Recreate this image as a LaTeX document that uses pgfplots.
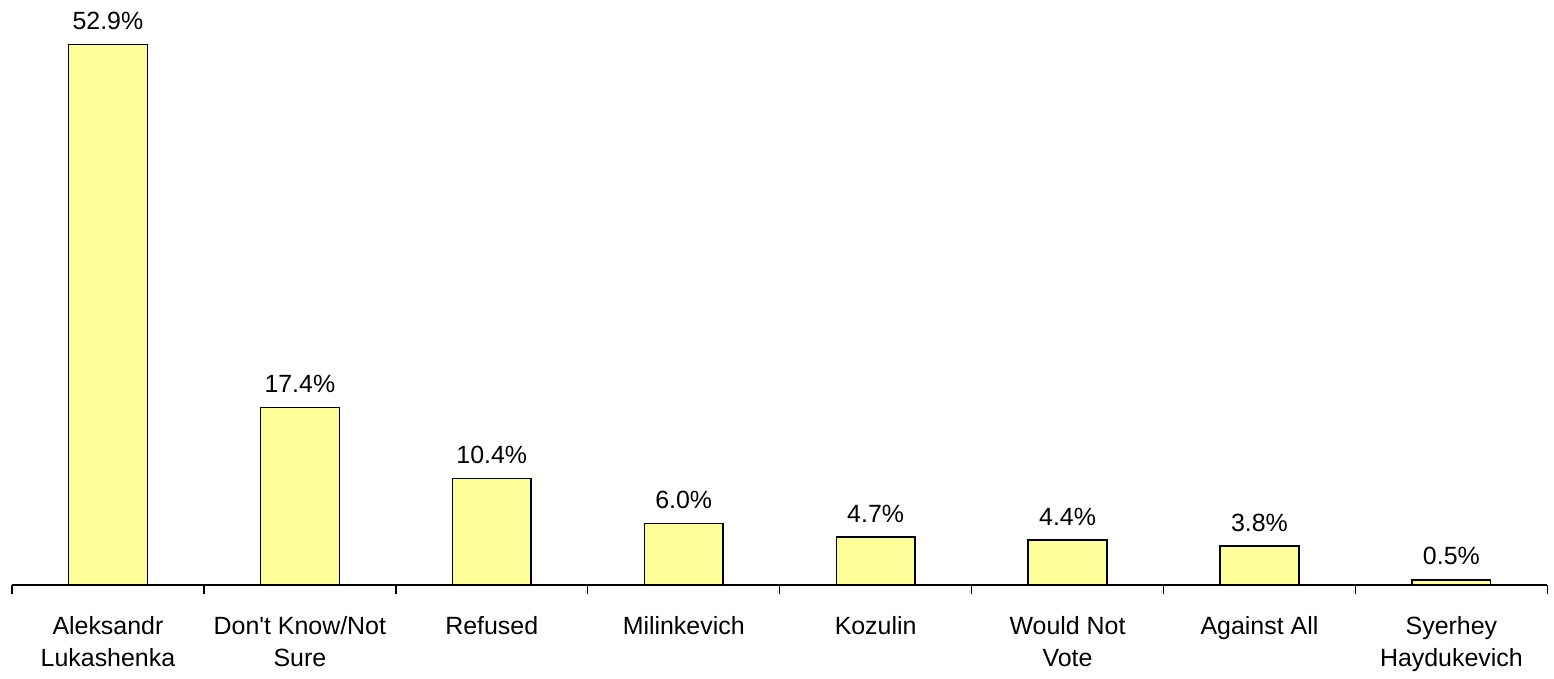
\documentclass[border=0pt]{standalone}
\usepackage{pgfplots}
\pgfplotsset{compat=1.18}
\usepackage{fontspec}
\setmainfont{Liberation Sans}
\definecolor{barfill}{HTML}{FFFF99}
\begin{document}
\begin{tikzpicture}
\begin{axis}[
    scale only axis,
    width=770pt, height=281.9pt,
    ymin=0, ymax=55,
    xmin=-0.5, xmax=7.5,
    axis x line=bottom, axis y line=none,
    axis line style={-, line width=0.7pt, black},
    ybar, bar width=39.5pt,
    xtick=data,
    xticklabels={{Aleksandr\\Lukashenka},{Don\textquotesingle t Know/Not\\Sure},Refused,Milinkevich,Kozulin,{Would Not\\Vote},{Against All},{Syerhey\\Haydukevich}},
    xticklabel style={align=center, font=\fontsize{12.5}{16.5}\selectfont, anchor=north, yshift=-12pt},
    major tick length=0pt,
    extra x ticks={-0.5,0.5,...,7.5},
    extra x tick labels={},
    extra x tick style={major tick length=4.5pt, tick align=outside, major tick style={black, line width=0.7pt}},
    /pgf/number format/assume math mode=true,
    nodes near coords={\pgfmathprintnumber[fixed,fixed zerofill,precision=1]{\pgfplotspointmeta}\%},
    nodes near coords style={font=\fontsize{12.5}{15}\selectfont, anchor=base, yshift=7.5pt},
    clip=false,
]
\addplot[fill=barfill, draw=black, line width=0.7pt] coordinates {
    (0,52.9) (1,17.4) (2,10.4) (3,6.0) (4,4.7) (5,4.4) (6,3.8) (7,0.5)
};
\end{axis}
\path ([xshift=-6pt]current axis.south west) ([xshift=1pt]current axis.south east)
      ([yshift=11.5pt]current axis.north);
\end{tikzpicture}
\end{document}
